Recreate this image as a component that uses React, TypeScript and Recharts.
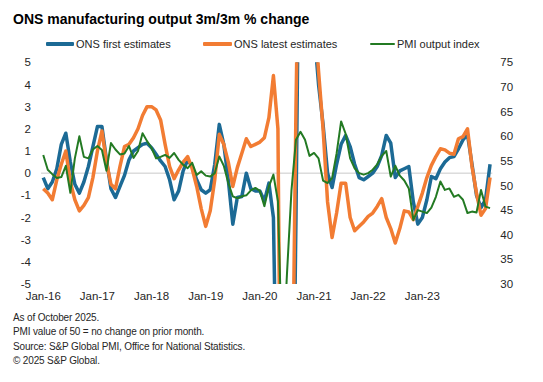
import { LineChart, Line, XAxis, YAxis, ReferenceLine } from "recharts";

// ONS manufacturing output, 3m/3m % change, monthly from Jan-16
const firstEstimates = [
  -0.2, -0.7, -0.4, 0.2, 1.3, 1.8, 0.5, -0.5, -0.9, -0.4,
  0.3, 1.2, 2.1, 2.1, 0.6, -0.7, -1.1, -0.6, -0.1, 0.6,
  1.0, 1.15, 1.3, 1.35, 1.15, 0.85, 0.55, 0.3, -0.3, -1.2,
  -0.8, 0.1, 0.6, 0.3, -0.3, -0.75, -0.9, -0.75, 0.4, 2.2,
  1.3, -0.3, -2.3, -1.1, -1.05, 0.0, -0.7, -0.8, -0.8, -1.25,
  -0.45, -2.0, -14, -24, -24, -18, -2, 18, 14, 9,
  6.5, 4.0, 2.2, 0.0, -0.65, 0.4, 1.3, 1.7, 1.2, 0.4,
  -0.2, -0.3, -0.15, 0.0, 0.3, 0.8, 1.7, 1.35, -0.2, 0.1,
  0.2, 0.3, -1.3, -2.3, -2.0, -1.2, -0.15, -0.25, 0.2, 0.5,
  0.7, 0.75, 1.1, 1.5, 1.75, 0.4, -1.0, -1.55, -1.2, 0.4,
];

const latestEstimates = [
  -0.7, -0.9, -1.2, -0.3, 0.4, 1.0, -0.4, -1.2, -1.7, -1.45,
  -1.1, -0.2, 1.0, 1.9, 0.5, -0.5, -0.7, 0.3, 1.2, 1.3,
  1.6, 2.0, 2.6, 3.0, 3.0, 2.85, 2.4, 1.3, 0.3, -0.25,
  0.15, 0.5, 0.75, 0.2, -0.6, -1.6, -2.4, -1.7, -0.3, 1.75,
  1.3, 0.5, -0.6, 0.25, 0.9, 1.55, 1.2, 1.3, 1.4, 1.6,
  2.5, 4.4, 2.0, -22, -24, -14, 3, 16, 14, 10,
  7.5, 4.6, 2.0, -1.3, -2.9, -1.8, -0.45, -0.45, -2.0, -2.6,
  -2.4, -2.2, -1.95, -1.8, -1.5, -1.15, -2.0, -2.5, -3.15, -2.5,
  -1.7, -1.75, -2.1, -1.5, -0.9, -0.2, 0.35, 0.75, 1.1, 1.05,
  0.9, 0.85, 1.55, 1.65, 2.0, 0.3, -0.9, -1.9, -1.6, -0.2,
];

const pmiOutput = [
  56.2, 53.2, 52.3, 51.5, 51.7, 54.0, 48.5, 55.5, 60.0, 55.8,
  55.5, 57.3, 58.0, 57.2, 53.0, 58.6, 57.3, 56.3, 56.5, 58.0,
  55.6, 57.0, 60.6, 59.0, 57.6, 55.5, 55.8, 56.2, 55.6, 56.6,
  55.2, 54.2, 53.5, 54.6, 52.1, 52.9, 52.0, 51.8, 52.5, 55.9,
  54.0, 50.5, 47.8, 47.4, 47.8, 48.0, 49.0, 49.5, 48.9, 45.8,
  49.8, 52.2, 46.8, 13.0, 32.0, 49.0, 59.3, 60.9, 59.3, 56.0,
  56.6, 55.5, 51.0, 50.5, 51.5, 56.5, 63.0, 60.5, 55.5, 53.5,
  52.5, 52.2, 52.5, 53.2, 54.3, 56.0, 57.0, 51.8, 54.0, 52.0,
  51.0, 49.4, 43.0, 45.0, 44.7, 44.4, 45.5, 47.7, 50.8, 49.1,
  49.4, 47.7, 48.1, 47.1, 44.4, 44.7, 44.5, 49.1, 45.7, 45.4,
];

const yearTicks = [0, 12, 24, 36, 48, 60, 72, 84];
const yearLabels = ["Jan-16", "Jan-17", "Jan-18", "Jan-19", "Jan-20", "Jan-21", "Jan-22", "Jan-23"];
const leftTicks = [5, 4, 3, 2, 1, 0, -1, -2, -3, -4, -5];
const rightTicks = [75, 70, 65, 60, 55, 50, 45, 40, 35, 30];

const footnotes = [
  "As of October 2025.",
  "PMI value of 50 = no change on prior month.",
  "Source: S&P Global PMI, Office for National Statistics.",
  "\u00a9 2025 S&P Global.",
];

const BLUE = "#1c6a95";
const ORANGE = "#f27c33";
const GREEN = "#237a23";
const FONT = "'Liberation Sans', Arial, sans-serif";

const data = firstEstimates.map((v, i) => ({
  i,
  first: v,
  latest: latestEstimates[i],
  pmi: pmiOutput[i],
}));

const legendItems = [
  { label: "ONS first estimates", color: BLUE, x: 46, w: 28, h: 3.5 },
  { label: "ONS latest estimates", color: ORANGE, x: 203, w: 29, h: 3.5 },
  { label: "PMI output index", color: GREEN, x: 370, w: 25, h: 2 },
];

export default function App() {
  const tick = { fontSize: 11.5, fill: "#262626", fontFamily: FONT };
  return (
    <div style={{ position: "absolute", left: 0, top: 0, width: 543, height: 382, background: "#fff", fontFamily: FONT, color: "#000" }}>
      <div style={{ position: "absolute", left: 13, top: 11, fontSize: 14, lineHeight: "16px", fontWeight: 700, whiteSpace: "nowrap" }}>
        ONS manufacturing output 3m/3m % change
      </div>

      {legendItems.map((it) => (
        <div key={it.label}>
          <div style={{ position: "absolute", left: it.x, top: 44 - it.h / 2, width: it.w, height: it.h, background: it.color, borderRadius: 1 }} />
          <div style={{ position: "absolute", left: it.x + it.w + 2, top: 37.7, fontSize: 11, lineHeight: "13px", color: "#262626", whiteSpace: "nowrap" }}>
            {it.label}
          </div>
        </div>
      ))}

      <div style={{ position: "absolute", left: 0, top: 0 }}>
        <LineChart width={543} height={382} data={data} margin={{ top: 62.3, right: 0, bottom: 0, left: 0 }}>
          <XAxis
            type="number"
            dataKey="i"
            domain={[-0.5, 99.5]}
            ticks={yearTicks}
            interval={0}
            tickFormatter={(v) => yearLabels[yearTicks.indexOf(v)] ?? ""}
            axisLine={false}
            tickLine={false}
            height={98}
            tick={tick}
          />
          <YAxis
            yAxisId="l"
            domain={[-5, 5]}
            ticks={leftTicks}
            interval={0}
            allowDataOverflow
            axisLine={false}
            tickLine={false}
            width={41}
            tickMargin={4}
            tick={tick}
          />
          <YAxis
            yAxisId="r"
            orientation="right"
            domain={[30, 75]}
            ticks={rightTicks}
            interval={0}
            allowDataOverflow
            axisLine={false}
            tickLine={false}
            width={50.7}
            tickMargin={2}
            tick={tick}
          />
          <ReferenceLine yAxisId="l" y={0} stroke="#c9c9c9" strokeWidth={1} />
          <Line yAxisId="l" type="linear" dataKey="first" stroke={BLUE} strokeWidth={3.5} dot={false} isAnimationActive={false} strokeLinejoin="round" />
          <Line yAxisId="l" type="linear" dataKey="latest" stroke={ORANGE} strokeWidth={3.5} dot={false} isAnimationActive={false} strokeLinejoin="round" />
          <Line yAxisId="r" type="linear" dataKey="pmi" stroke={GREEN} strokeWidth={2} dot={false} isAnimationActive={false} strokeLinejoin="round" />
        </LineChart>
      </div>

      {footnotes.map((t, k) => (
        <div key={t} style={{ position: "absolute", left: 13, top: 310.8 + k * 14.5, fontSize: 10, lineHeight: "14.5px", letterSpacing: -0.15, color: "#262626", whiteSpace: "nowrap" }}>
          {t}
        </div>
      ))}
    </div>
  );
}
